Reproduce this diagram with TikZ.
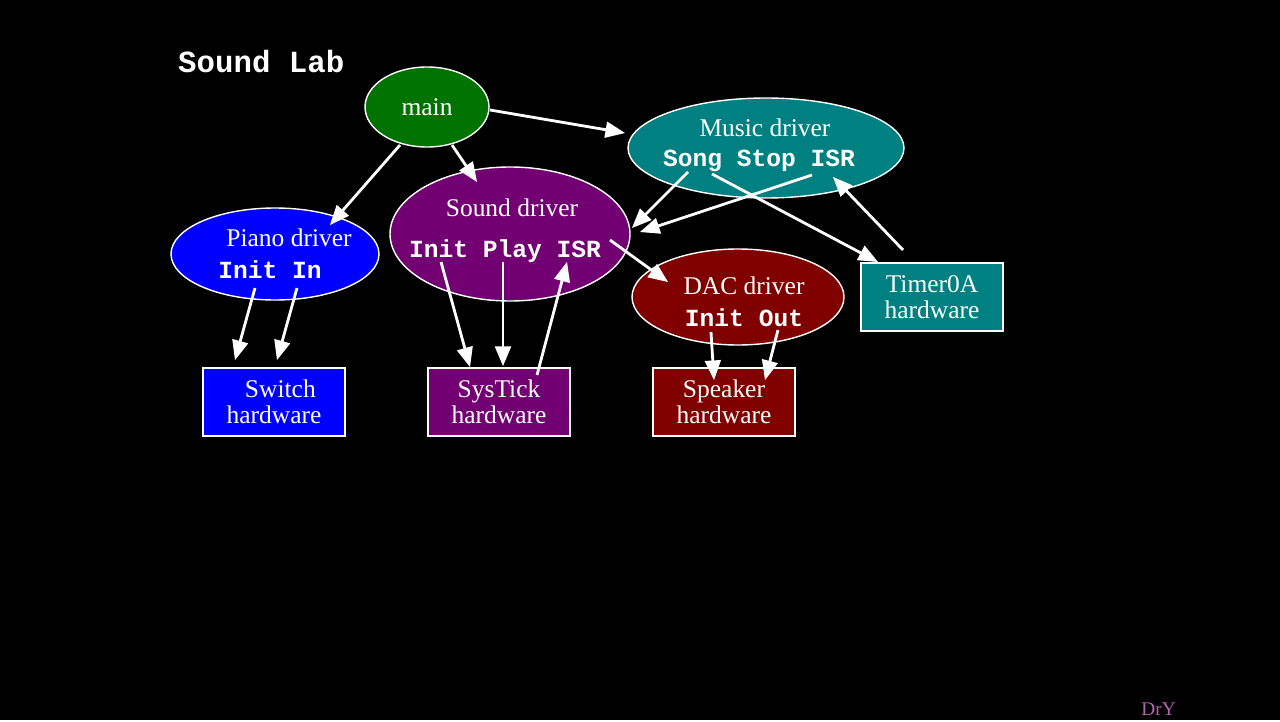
\documentclass[tikz,border=0pt]{standalone}
\usepackage{fontspec}
\setmainfont{Liberation Serif}
\setmonofont{Liberation Mono}
\usetikzlibrary{positioning,shapes.geometric,arrows}
\tikzset{
  drv/.style args={#1x#2}{ellipse, draw=white, thick, inner sep=0pt, minimum width=#1*0.02cm, minimum height=#2*0.02cm},
  dname/.style={text=white, font=\fontsize{14.5}{16}\selectfont},
  fn/.style={text=white, font=\fontsize{14}{16}\selectfont\ttfamily\bfseries},
  hw/.style={rectangle, draw=white, thick, text=white, minimum width=142*0.02cm, minimum height=68*0.02cm, align=center, font=\fontsize{14.5}{14.5}\selectfont, inner sep=1pt},
  call/.style={-triangle 45, white, line width=1.6pt}
}
\begin{document}
\begin{tikzpicture}[x=0.02cm, y=-0.02cm]
\fill[black] (0,0) rectangle (1280,720);
\node[text=white, font=\fontsize{17.5}{18}\selectfont\ttfamily\bfseries, anchor=west] (title) at (172,62) {Sound Lab};
% driver ellipses
\node[drv=124x80, fill=green!45!black] (main) at (427,107) {};
\node[dname] at (main) {main};
\node[drv=276x100, fill=teal] (music) at (766,148) {};
\node[dname] (musicN) at (765,128) {Music driver};
\node[fn] (musicF) at (759,161) {Song Stop ISR};
\node[drv=240x134, fill=violet!90!black] (sound) at (510,234) {};
\node[dname] (soundN) at (512,208) {Sound driver};
\node[fn] (soundF) at (505,251) {Init Play ISR};
\node[drv=208x92, fill=blue] (piano) at (275,254) {};
\node[dname] (pianoN) at (289,238) {Piano driver};
\node[fn] (pianoF) at (270,270) {Init In};
\node[drv=212x96, fill=red!50!black] (dac) at (738,297) {};
\node[dname] (dacN) at (744,286) {DAC driver};
\node[fn] (dacF) at (744,318) {Init Out};
% hardware boxes
\node[hw, fill=blue] (switch) at (274,402) {\ \ Switch\\hardware};
\node[hw, fill=violet!90!black] (systick) at (499,402) {SysTick\\hardware};
\node[hw, fill=red!50!black] (speaker) at (724,402) {Speaker\\hardware};
\node[hw, fill=teal] (timer) at (932,297) {Timer0A\\hardware};
\node[text=violet!60!white, font=\fontsize{11}{11}\selectfont, anchor=east] (dry) at (1182,709) {DrY};
% connectors
\coordinate (mainR) at (490,110); \coordinate (musicL) at (625,133);
\coordinate (mainL) at (400,145); \coordinate (pianoT) at (330,225);
\coordinate (mainB) at (452,145); \coordinate (soundT) at (477,182);
\coordinate (song) at (688,172); \coordinate (soundR1) at (632,228);
\coordinate (misr) at (812,175); \coordinate (soundR2) at (640,232);
\coordinate (song2) at (712,174); \coordinate (timerT) at (878,262);
\coordinate (timerA) at (903,250); \coordinate (misrB) at (833,177);
\coordinate (sisr) at (610,240); \coordinate (dacL) at (668,282);
\draw[call] (mainR) -- (musicL);
\draw[call] (mainL) -- (pianoT);
\draw[call] (mainB) -- (soundT);
\draw[call] (song) -- (soundR1);
\draw[call] (misr) -- (soundR2);
\draw[call] (song2) -- (timerT);
\draw[call] (timerA) -- (misrB);
\draw[call] (sisr) -- (dacL);
\draw[call] (255,288) -- (235,360);
\draw[call] (297,288) -- (277,360);
\draw[call] (441,262) -- (470,367);
\draw[call] (503,262) -- (503,366);
\draw[call] (537,375) -- (567,262);
\draw[call] (711,332) -- (714,380);
\draw[call] (778,330) -- (765,380);
\end{tikzpicture}
\end{document}
